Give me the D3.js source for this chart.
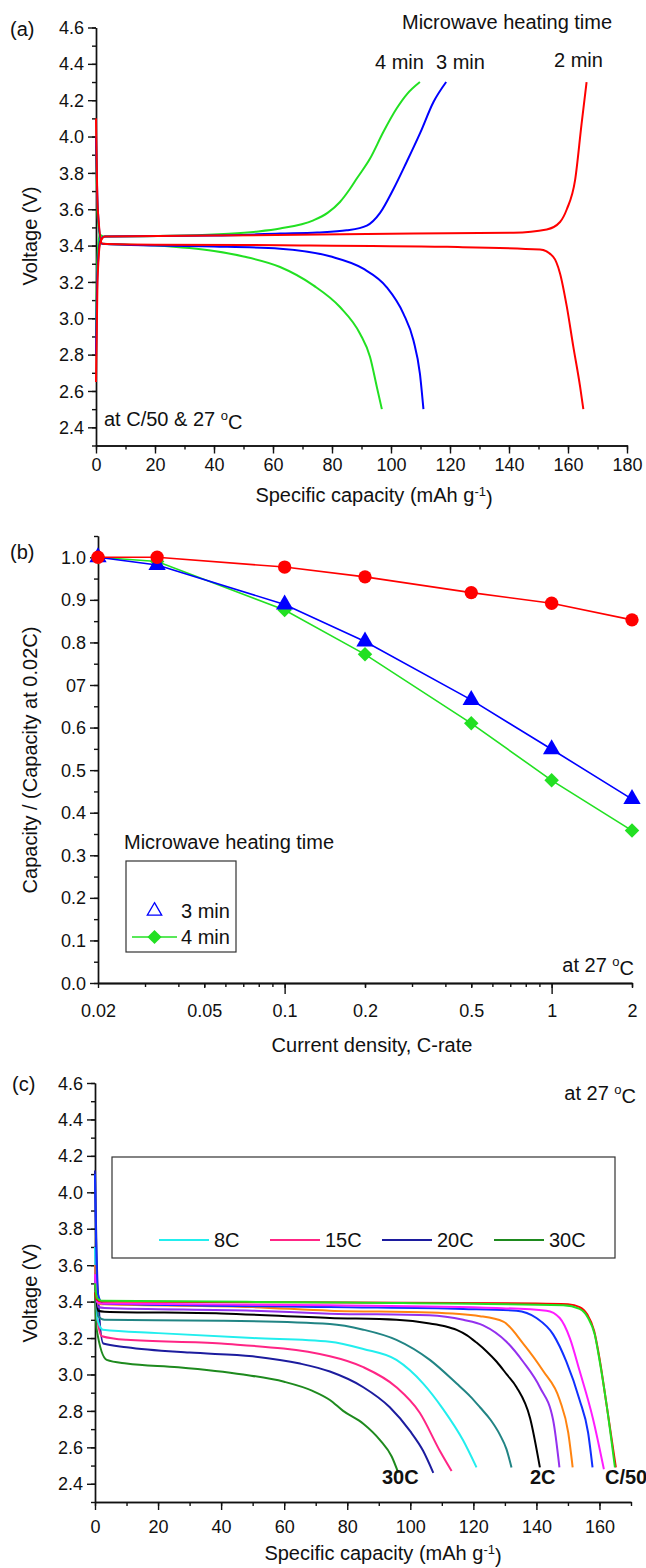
<!DOCTYPE html>
<html>
<head>
<meta charset="utf-8">
<script src="https://cdn.jsdelivr.net/npm/d3@7"></script>
<style>
  body { margin: 0; background: #fff; }
  svg { display: block; font-family: "Liberation Sans", Arial, sans-serif; }
  .axis path, .axis line { stroke: #111; stroke-width: 1.4; }
  .axis text { font-size: 18px; fill: #111; font-family: "Liberation Sans", Arial, sans-serif; }
  .lbl { font-size: 20px; fill: #111; }
</style>
</head>
<body>
<svg width="646" height="1568"></svg>
<script>
// ---------- (a) charge / discharge at C/50, [capacity, voltage]
const chg2min = [[0,2.65],[0.5,3.2],[1.5,3.42],[3,3.45],[40,3.455],[107.6,3.466],[141.5,3.471],[152.8,3.489],[157.3,3.53],[159.6,3.6],[162.4,3.76],[164.6,4.07],[166.3,4.3]];
const dis2min = [[0,4.1],[0.6,3.6],[2.2,3.41],[20,3.405],[62.4,3.402],[119,3.393],[150.5,3.378],[155,3.338],[157.3,3.247],[159.6,3.064],[161.8,2.844],[164.1,2.624],[165.2,2.5]];
const chg3min = [[0,2.8],[0.5,3.25],[1.5,3.43],[3,3.45],[40,3.455],[62.4,3.466],[75,3.472],[85,3.484],[91.8,3.51],[96.3,3.58],[100.8,3.71],[105.3,3.86],[109.9,4.02],[114.4,4.19],[118.7,4.3]];
const dis3min = [[0,4.0],[0.6,3.6],[2,3.41],[20,3.4],[40,3.395],[62.4,3.383],[79.3,3.341],[90.6,3.273],[98.5,3.172],[104.2,3.026],[107.6,2.879],[109.8,2.696],[111,2.5]];
const chg4min = [[0,2.9],[0.4,3.3],[1.2,3.46],[2.5,3.45],[30,3.455],[45,3.465],[55,3.478],[62.4,3.494],[73.7,3.539],[78.5,3.58],[82.7,3.64],[86,3.71],[88.4,3.769],[92.9,3.879],[97.4,4.025],[101.9,4.154],[105.5,4.235],[109.8,4.3]];
const dis4min = [[0,3.95],[0.6,3.55],[2,3.41],[20,3.4],[40,3.37],[50,3.34],[62.4,3.282],[73.7,3.181],[82.7,3.062],[89.5,2.915],[92.9,2.787],[95.2,2.622],[96.9,2.5]];

// ---------- (b) rate capability
const cRates = [0.02, 0.0333, 0.1, 0.2, 0.5, 1, 2];
const keep2min = [1.0, 1.0, 0.977, 0.954, 0.917, 0.892, 0.853];
const keep3min = [1.0, 0.982, 0.889, 0.802, 0.665, 0.549, 0.432];
const keep4min = [1.0, 0.99, 0.876, 0.772, 0.61, 0.476, 0.358];

// ---------- (c) discharge curves at different rates
const dC50   = [[0,3.45],[0.6,3.41],[2,3.4],[80,3.395],[140,3.39],[150,3.385],[153.7,3.37],[156.1,3.33],[158.3,3.24],[160,3.09],[162.2,2.84],[165.2,2.49]];
const dLime  = [[0,3.5],[0.6,3.42],[2,3.405],[80,3.395],[148.5,3.38],[153.7,3.36],[156.4,3.31],[158.5,3.22],[160.1,3.07],[162.2,2.84],[164.9,2.49]];
const dMag   = [[0,3.55],[0.6,3.4],[2,3.39],[74.5,3.38],[127.4,3.365],[143.2,3.35],[147.4,3.31],[150.6,3.2],[153.7,3.02],[157.9,2.76],[161.4,2.48]];
const dBlue  = [[0,4.1],[0.8,3.45],[2.5,3.39],[74.5,3.37],[116.8,3.36],[133.7,3.35],[140,3.31],[145.3,3.22],[149.5,3.07],[153.7,2.86],[156.4,2.68],[157.8,2.49]];
const dOrange= [[0,3.6],[1,3.39],[3,3.385],[50,3.37],[74.5,3.35],[106,3.34],[122.1,3.32],[129.5,3.29],[135.8,3.17],[142.1,3.02],[147.4,2.86],[150.1,2.68],[151.5,2.49]];
const dPurple= [[0,3.6],[1,3.37],[3,3.365],[50,3.35],[74.5,3.334],[106,3.325],[116.8,3.3],[123.1,3.27],[130.5,3.18],[135.8,3.07],[141.1,2.93],[145.3,2.75],[147.3,2.49]];
const d2C    = [[0,3.5],[1,3.35],[3,3.345],[40,3.335],[74.5,3.31],[95.6,3.3],[106.2,3.28],[111,3.265],[114.7,3.245],[118,3.215],[121,3.175],[124.3,3.125],[127.4,3.07],[130.6,3.0],[133.7,2.93],[138,2.76],[141.1,2.49]];
const dTeal  = [[0,3.55],[1,3.32],[3,3.3],[40,3.295],[74.5,3.277],[85.1,3.246],[95.6,3.19],[106.2,3.08],[114.7,2.95],[119,2.88],[122.1,2.82],[125.5,2.75],[128.4,2.67],[130.5,2.59],[132.1,2.49]];
const d8C    = [[0,3.7],[0.8,3.3],[2.5,3.245],[20,3.227],[50,3.2],[74.5,3.18],[85.1,3.14],[95.6,3.08],[104.1,2.95],[110.4,2.81],[116.7,2.64],[121,2.49]];
const d15C   = [[0,3.6],[0.8,3.3],[2.2,3.21],[10,3.19],[40,3.17],[74.5,3.1],[85.1,3.04],[95.6,2.93],[103,2.79],[109.4,2.58],[113.1,2.47]];
const d20C   = [[0,4.12],[0.8,3.5],[2.6,3.17],[10,3.15],[30,3.12],[50,3.1],[65,3.06],[74.5,3.016],[85.1,2.93],[93.5,2.82],[99.9,2.69],[104.1,2.58],[107.3,2.46]];
const d30C   = [[0,3.45],[0.5,3.25],[3.7,3.08],[10,3.06],[26.4,3.04],[47,3.0],[60,2.96],[69,2.91],[74.5,2.86],[78.7,2.8],[85.1,2.73],[90.4,2.64],[94.1,2.55],[96.2,2.46]];
const legendC = ["8C", "15C", "20C", "30C"];

const RED = "#ff0000", BLUE = "#0000ff", GREEN = "#22e022";

const svg = d3.select("svg");
svg.append("rect").attr("width", 646).attr("height", 1568).attr("fill", "#fff");

const line = (x, y) => d3.line().x(d => x(d[0])).y(d => y(d[1])).curve(d3.curveMonotoneX);

function leftAxis(x0, scale, major, minor, fmt) {
    const g = svg.append("g").attr("class", "axis").attr("transform", `translate(${x0},0)`);
    g.append("g").call(d3.axisLeft(scale).tickValues(minor).tickSize(4).tickSizeOuter(0).tickFormat(""));
    const m = g.append("g").call(d3.axisLeft(scale).tickValues(major).tickSize(8).tickSizeOuter(0).tickFormat(fmt));
    m.selectAll("text").attr("x", -12).attr("dy", "0.34em");
}

function bottomAxis(y0, scale, major, minor, fmt, labY, bigLen) {
    const g = svg.append("g").attr("class", "axis").attr("transform", `translate(0,${y0})`);
    g.append("g").call(d3.axisBottom(scale).tickValues(minor).tickSize(4).tickSizeOuter(0).tickFormat(""));
    const m = g.append("g").call(d3.axisBottom(scale).tickValues(major).tickSize(bigLen || 8).tickSizeOuter(0).tickFormat(fmt));
    m.selectAll("text").attr("y", labY).attr("dy", "0.35em");
    return g;
}

function text(x, y, str, opts = {}) {
    return svg.append("text").attr("class", "lbl").attr("x", x).attr("y", y).attr("dy", "0.35em")
        .attr("text-anchor", opts.anchor || "start").text(str);
}

function degC(t, before) {
    t.text(before);
    t.append("tspan").attr("dy", "-0.45em").attr("font-size", "13px").text("o");
    t.append("tspan").attr("dy", "0.45em").text("C");
}

function capTitle(cx, cy) {
    const t = text(cx, cy, "Specific capacity (mAh g", { anchor: "middle" });
    t.append("tspan").attr("dy", "-0.45em").attr("font-size", "13px").text("-1");
    t.append("tspan").attr("dy", "0.45em").text(")");
}

function yTitle(cx, cy, str) {
    svg.append("text").attr("class", "lbl").attr("transform", `translate(${cx},${cy}) rotate(-90)`)
        .attr("text-anchor", "middle").attr("dy", "0.35em").text(str);
}

// ======================= (a)
const xA = d3.scaleLinear().domain([0, 180]).range([96, 627]);
const yA = d3.scaleLinear().domain([2.3, 4.6]).range([445.5, 27.5]);

leftAxis(96, yA, d3.range(2.4, 4.61, 0.2), d3.range(2.3, 4.61, 0.1), d3.format(".1f"));
bottomAxis(445.5, xA, d3.range(0, 181, 20), d3.range(0, 181, 10), d3.format("d"), 19);

const curvesA = [[dis4min, GREEN], [chg4min, GREEN], [dis3min, BLUE], [chg3min, BLUE], [dis2min, RED], [chg2min, RED]];
svg.append("g").selectAll("path").data(curvesA).join("path")
    .attr("d", d => line(xA, yA)(d[0]))
    .attr("fill", "none").attr("stroke", d => d[1]).attr("stroke-width", 2);

text(10, 29, "(a)");
yTitle(30, 236, "Voltage (V)");
capTitle(374, 495);
text(402, 22, "Microwave heating time");
text(375, 62, "4 min");
text(436, 62, "3 min");
text(554, 60, "2 min");
degC(text(104, 419, ""), "at C/50 & 27 ");

// ======================= (b)
const xB = d3.scaleLog().domain([0.02, 2]).range([98, 632]);
const yB = d3.scaleLinear().domain([0, 1.05]).range([983, 536]);

leftAxis(98, yB, d3.range(0, 1.01, 0.1), d3.range(0, 1.051, 0.05), v => (Math.abs(v - 0.7) < 1e-6 ? "07" : d3.format(".1f")(v)));
const minorB = [0.03, 0.04, 0.05, 0.06, 0.07, 0.08, 0.09, 0.2, 0.3, 0.4, 0.5, 0.6, 0.7, 0.8, 0.9, 2];
const gB = bottomAxis(983, xB, [0.02, 0.05, 0.1, 0.2, 0.5, 1, 2], minorB, d => String(d), 28, 5);
gB.append("g").call(d3.axisBottom(xB).tickValues([0.1, 1]).tickSize(11).tickSizeOuter(0).tickFormat(""));

// diamond = square turned by 45 degrees
const seriesB = [
    { v: keep4min, c: GREEN, sym: d3.symbolSquare, size: 105, rot: 45 },
    { v: keep3min, c: BLUE, sym: d3.symbolTriangle, size: 130, rot: 0 },
    { v: keep2min, c: RED, sym: d3.symbolCircle, size: 140, rot: 0 }
];
seriesB.forEach(s => {
    const pts = cRates.map((r, i) => [r, s.v[i]]);
    svg.append("path").attr("d", d3.line().x(d => xB(d[0])).y(d => yB(d[1]))(pts))
        .attr("fill", "none").attr("stroke", s.c).attr("stroke-width", 1.6);
    svg.append("g").selectAll("path").data(pts).join("path")
        .attr("transform", d => `translate(${xB(d[0])},${yB(d[1])}) rotate(${s.rot})`)
        .attr("d", d3.symbol(s.sym, s.size)).attr("fill", s.c);
});

text(10, 552, "(b)");
yTitle(30, 760, "Capacity / (Capacity at 0.02C)");
text(372, 1045, "Current density, C-rate", { anchor: "middle" });
degC(text(634, 965, "", { anchor: "end" }), "at 27 ");

text(124, 842, "Microwave heating time");
svg.append("rect").attr("x", 126).attr("y", 861).attr("width", 110).attr("height", 91)
    .attr("fill", "none").attr("stroke", "#333").attr("stroke-width", 1.2);
svg.append("path").attr("transform", "translate(154.5,911)").attr("d", d3.symbol(d3.symbolTriangle, 90))
    .attr("fill", "none").attr("stroke", BLUE).attr("stroke-width", 1.3);
text(181, 911, "3 min");
svg.append("line").attr("x1", 132).attr("x2", 177).attr("y1", 937).attr("y2", 937).attr("stroke", GREEN).attr("stroke-width", 1.6);
svg.append("path").attr("transform", "translate(154.5,937) rotate(45)").attr("d", d3.symbol(d3.symbolSquare, 100)).attr("fill", GREEN);
text(181, 937, "4 min");

// ======================= (c)
const xC = d3.scaleLinear().domain([0, 170]).range([95, 631]);
const yC = d3.scaleLinear().domain([2.3, 4.6]).range([1502, 1083]);

leftAxis(95, yC, d3.range(2.4, 4.61, 0.2), d3.range(2.3, 4.61, 0.1), d3.format(".1f"));
bottomAxis(1502, xC, d3.range(0, 161, 20), d3.range(0, 171, 10), d3.format("d"), 25);

const curvesC = [
    [d30C, "#1e8a1e"], [d20C, "#1c1c9e"], [d15C, "#ff2585"], [d8C, "#22eeee"], [dTeal, "#218484"],
    [d2C, "#000000"], [dPurple, "#9430ee"], [dOrange, "#ff8410"], [dBlue, "#1030ff"],
    [dMag, "#ff1cff"], [dC50, RED], [dLime, GREEN]
];
svg.append("g").selectAll("path").data(curvesC).join("path")
    .attr("d", d => line(xC, yC)(d[0]))
    .attr("fill", "none").attr("stroke", d => d[1]).attr("stroke-width", 2);

text(12, 1084, "(c)");
yTitle(30, 1293, "Voltage (V)");
capTitle(383, 1553);
degC(text(636, 1093, "", { anchor: "end" }), "at 27 ");

svg.append("rect").attr("x", 112).attr("y", 1157).attr("width", 503).attr("height", 101)
    .attr("fill", "none").attr("stroke", "#333").attr("stroke-width", 1.2);
const legColors = ["#22eeee", "#ff2585", "#1c1c9e", "#1e8a1e"];
const legX = [159, 270, 382, 494];
legendC.forEach((name, i) => {
    svg.append("line").attr("x1", legX[i]).attr("x2", legX[i] + 50).attr("y1", 1240).attr("y2", 1240)
        .attr("stroke", legColors[i]).attr("stroke-width", 2);
    text(legX[i] + 55, 1240, name);
});

text(382, 1477, "30C").attr("font-weight", "bold").attr("fill", "#1e8a1e");
text(530, 1477, "2C").attr("font-weight", "bold").attr("fill", "#000");
text(605, 1477, "C/50").attr("font-weight", "bold").attr("fill", RED);
</script>
</body>
</html>
